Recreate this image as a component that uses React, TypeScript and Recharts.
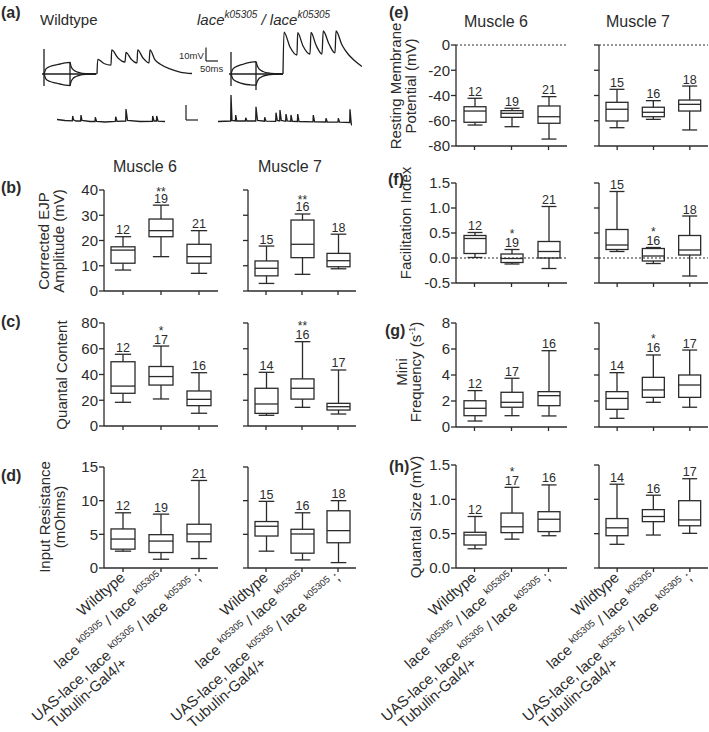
import React from 'react';
import { ComposedChart, Bar, XAxis, YAxis, ReferenceLine, LineChart, Line } from 'recharts';

const FONT = '"Liberation Sans", Arial, Helvetica, sans-serif';
const INK = '#2b2b2b';

const GROUPS = ['Wildtype', 'lace/lace', 'rescue'];

// box stats per genotype: [min, q1, median, q3, max]
const ejpM6 = [[8.3, 11, 16.2, 17.5, 21.5], [13.6, 21.5, 23.9, 28.5, 34], [7, 11, 13.6, 18.5, 23.9]];
const ejpM7 = [[3, 6, 9, 11.9, 17.8], [6.6, 13.2, 18.5, 28.1, 30.5], [8.8, 9.6, 12, 14.9, 22.5]];
const qcM6 = [[18.4, 25.4, 31, 49.9, 55.7], [21, 31.8, 38.4, 46.2, 62.1], [9.9, 15.8, 20.7, 27.2, 41.4]];
const qcM7 = [[8.3, 9.8, 17.1, 29.3, 41.7], [14.5, 20.9, 29.3, 36.6, 65.5], [9.3, 12.4, 15, 17.6, 43.5]];
const irM6 = [[2.5, 2.8, 4.3, 5.8, 8.2], [1.3, 2.3, 4.0, 4.95, 8.0], [1.4, 3.9, 5.05, 6.5, 13]];
const irM7 = [[2.5, 4.75, 6.2, 6.9, 9.9], [1.2, 2.2, 5.05, 5.75, 8.2], [0.8, 3.75, 5.55, 8.5, 10]];
const rmpM6 = [[-63.4, -61.2, -52.3, -48.9, -42.2], [-64.7, -57.3, -54.1, -52, -50.1], [-74.5, -62, -56.8, -48.3, -40.9]];
const rmpM7 = [[-65.5, -60.2, -50.9, -45.4, -35.1], [-58.9, -56.8, -53.3, -49.3, -44.1], [-67.3, -52.3, -47, -43.6, -32.5]];
const fiM6 = [[0.01, 0.09, 0.39, 0.45, 0.51], [-0.12, -0.09, -0.01, 0.08, 0.17], [-0.21, 0, 0.13, 0.33, 1.03]];
const fiM7 = [[0.13, 0.17, 0.26, 0.57, 1.33], [-0.11, -0.06, 0.04, 0.19, 0.21], [-0.36, 0.06, 0.16, 0.45, 0.84]];
const mfM6 = [[0.46, 0.87, 1.44, 2.02, 2.8], [0.87, 1.52, 1.9, 2.67, 3.75], [0.85, 1.64, 2.41, 2.72, 5.87]];
const mfM7 = [[0.67, 1.36, 2.2, 2.72, 4.18], [1.9, 2.28, 2.85, 3.82, 5.54], [1.52, 2.28, 3.23, 4.0, 5.92]];
const qsM6 = [[0.28, 0.335, 0.48, 0.52, 0.75], [0.42, 0.515, 0.6, 0.8, 1.175], [0.47, 0.53, 0.71, 0.82, 1.21]];
const qsM7 = [[0.345, 0.47, 0.585, 0.72, 1.22], [0.48, 0.675, 0.75, 0.85, 1.06], [0.505, 0.615, 0.7, 0.98, 1.3]];

// n per group
const nA = [12, 19, 21];
const nB = [15, 16, 18];
const nC = [12, 17, 16];
const nD = [14, 16, 17];

// significance marks
const sigNone = ['', '', ''];
const sig1 = ['', '*', ''];
const sig2 = ['', '**', ''];

// y ticks
const ejpTicks = [0, 10, 20, 30, 40];
const qcTicks = [0, 20, 40, 60, 80];
const irTicks = [0, 5, 10, 15];
const rmpTicks = [-80, -60, -40, -20, 0];
const fiTicks = [-0.5, 0, 0.5, 1, 1.5];
const mfTicks = [0, 2, 4, 6, 8];
const qsTicks = [0, 0.5, 1, 1.5];

// evoked traces [t ms, v mV]
const wtBase = [[0, 0], [245, 0]];
const wtArt1 = [[9, 19.3], [9, -9.2]];
const wtArt2 = [[126, 9.2], [126, -9.2]];
const wtStepUp = [[9, 0], [18, 3.9], [36, 5.8], [58, 6.9], [81, 7.7], [104, 8.5], [126, 8.9], [130, 6.2], [139, 3.5], [153, 1.9], [171, 0.9], [198, 0.3], [243, 0]];
const wtStepDown = [[9, 0], [18, -3.9], [36, -5.8], [58, -6.9], [81, -7.7], [104, -8.5], [126, -8.9], [130, -6.2], [139, -3.5], [153, -1.9], [171, -0.9], [198, -0.3], [243, 0]];
const wtTrain = [[247.5, 0], [250.7, 11.3], [279, 8.1], [310.5, 6.9], [313.7, 18.5], [342, 12.3], [373.5, 9.2], [378, 16.7], [400.5, 11.6], [427.5, 8.5], [430.7, 18.5], [454.5, 12.3], [481.5, 8.5], [486, 18.5], [508.5, 10.8], [531, 7.7], [576, 3.9], [621, 1.5], [675, 0.4]];

const laceBase = [[0, 0], [243, 0]];
const laceArt1 = [[9, 17], [9, -9.2]];
const laceArt2 = [[121.5, 9.2], [121.5, -12.3]];
const laceStepUp = [[9, 0], [18, 3.9], [40.5, 6.2], [67.5, 7.7], [94.5, 8.9], [121.5, 9.5], [126, 6.9], [135, 3.9], [153, 1.9], [175.5, 0.8], [207, 0.2], [243, 0]];
const laceStepDown = [[9, 0], [18, -3.9], [40.5, -6.2], [67.5, -7.7], [94.5, -8.3], [121.5, -8.5], [126, -6.2], [135, -3.5], [153, -1.7], [175.5, -0.7], [207, -0.2], [243, 0]];
const laceTrain = [[243, 0], [247.5, 32.3], [274.5, 20.8], [306, 14.6], [309, 31.8], [333, 21.6], [364.5, 15.4], [369, 32.1], [391.5, 22.3], [418.5, 15.4], [424, 33.1], [450, 23.1], [477, 16.2], [481.5, 33.1], [508.5, 22.3], [535.5, 15.4], [567, 10], [598.5, 5.8]];

// spontaneous minis [t ms, v mV]
const wtMini = [[0, 0.15], [80, 0.05], [153, 0.02], [157, 0.5], [165, 0.12], [190, 0], [236, 0], [240, 0.6], [250, 0.05], [330, -0.05], [380, -0.05], [383, 0.37], [395, -0.03], [480, -0.1], [583, -0.05], [587, 0.43], [600, -0.03], [687, 0], [690, 1.2], [705, 0.05], [830, -0.05], [954, -0.03], [957, 0.5], [970, 0], [994, 0], [997, 0.5], [1010, -0.02], [1080, -0.05]];
const laceMini = [[0, -0.05], [127, 0], [130, 2.6], [140, 0.05], [174, 0], [177, 0.6], [188, 0], [274, 0], [277, 0.33], [290, 0], [377, 0], [380, 1.43], [395, 0.05], [464, -0.02], [467, 0.37], [480, -0.02], [577, -0.03], [580, 0.83], [593, 0.05], [617, 0], [620, 1.1], [633, 0.05], [677, -0.03], [680, 0.7], [693, 0], [727, -0.03], [730, 0.6], [743, -0.03], [794, -0.05], [797, 0.7], [810, -0.05], [950, -0.08], [953, 0.6], [966, -0.08], [1077, -0.1], [1080, 0.27], [1093, -0.1], [1200, -0.12], [1203, 0.27], [1216, -0.12], [1317, -0.15], [1320, 1.17], [1333, -0.3], [1340, -0.45]];

const toPts = (arr: number[][]) => arr.map(([t, v]) => ({ t, v }));

const boxShape = (boxW: number, starGap: number) => (props: any) => {
  const { x, y, width, height, payload } = props;
  const [mn, q1, md, q3, mx] = payload.stats;
  const top = Math.min(y, y + height);
  const h = Math.abs(height);
  const py = (v: number) => top + (h * (mx - v)) / (mx - mn);
  const cx = x + width / 2;
  const half = boxW / 2;
  const cap = boxW * 0.34;
  return (
    <g>
      <g stroke={INK} strokeWidth={1.3} fill="none">
        <line x1={cx} x2={cx} y1={py(mx)} y2={py(q3)} />
        <line x1={cx} x2={cx} y1={py(q1)} y2={py(mn)} />
        <line x1={cx - cap} x2={cx + cap} y1={py(mx)} y2={py(mx)} />
        <line x1={cx - cap} x2={cx + cap} y1={py(mn)} y2={py(mn)} />
        <rect x={cx - half} y={py(q3)} width={boxW} height={py(q1) - py(q3)} />
        <line x1={cx - half} x2={cx + half} y1={py(md)} y2={py(md)} />
      </g>
      <text x={cx} y={py(mx) - 2.5} textAnchor="middle" fontSize={12.5} fill={INK} fontFamily={FONT}>
        {payload.n}
      </text>
      {payload.sig ? (
        <text x={cx} y={py(mx) - 2.5 - starGap} textAnchor="middle" fontSize={12} fill={INK} fontFamily={FONT}>
          {payload.sig}
        </text>
      ) : null}
    </g>
  );
};

const GroupTick = (props: any) => {
  const { x, y, payload } = props;
  let body: React.ReactNode = null;
  if (payload.value === GROUPS[0]) {
    body = <text textAnchor="end">Wildtype</text>;
  } else if (payload.value === GROUPS[1]) {
    body = (
      <text textAnchor="end">
        {'lace '}
        <tspan fontSize={9.5} dy={-6}>k05305</tspan>
        <tspan dy={6}>{' / lace '}</tspan>
        <tspan fontSize={9.5} dy={-6}>k05305</tspan>
      </text>
    );
  } else {
    body = (
      <>
        <text textAnchor="end">
          {'UAS-lace, lace '}
          <tspan fontSize={9.5} dy={-6}>k05305</tspan>
          <tspan dy={6}>{' / lace '}</tspan>
          <tspan fontSize={9.5} dy={-6}>k05305</tspan>
          <tspan dy={6}>{' ;'}</tspan>
        </text>
        <text x={-210} y={16} textAnchor="start">Tubulin-Gal4/+</text>
      </>
    );
  }
  return (
    <g
      transform={`translate(${x + 3},${y + 7}) rotate(-41)`}
      fontSize={15}
      fill={INK}
      fontFamily={FONT}
      style={{ whiteSpace: 'pre' }}
    >
      {body}
    </g>
  );
};

const Empty = () => <g />;

interface PanelProps {
  axisX: number;
  top: number;
  plotW: number;
  plotH: number;
  domain: [number, number];
  ticks: number[];
  stats: number[][];
  n: number[];
  sig: string[];
  labels?: boolean;
  bottom?: boolean;
  fmt?: (v: number) => string;
  zero?: boolean;
  boxW: number;
  starGap?: number;
}

const BoxPanel: React.FC<PanelProps> = ({ axisX, top, plotW, plotH, domain, ticks, stats, n, sig, labels, bottom, fmt, zero, boxW, starGap = 9 }) => {
  const yw = bottom ? 90 : 60;
  const xh = bottom ? 164 : 8;
  const data = GROUPS.map((g, i) => ({ group: g, range: [stats[i][0], stats[i][4]], stats: stats[i], n: n[i], sig: sig[i] }));
  return (
    <div style={{ position: 'absolute', left: axisX - yw, top }}>
      <ComposedChart width={yw + plotW} height={plotH + xh} data={data} margin={{ top: 0, right: 0, bottom: 0, left: 0 }}>
        <XAxis
          dataKey="group"
          type="category"
          height={xh}
          interval={0}
          tickSize={4}
          tickMargin={0}
          axisLine={{ stroke: INK, strokeWidth: 1.3 }}
          tickLine={{ stroke: INK, strokeWidth: 1.3 }}
          tick={bottom ? GroupTick : Empty}
        />
        <YAxis
          type="number"
          domain={domain}
          ticks={ticks}
          width={yw}
          tickSize={5}
          tickMargin={1}
          interval={0}
          axisLine={{ stroke: INK, strokeWidth: 1.3 }}
          tickLine={{ stroke: INK, strokeWidth: 1.3 }}
          tick={labels ? { fontSize: 15, fill: INK, fontFamily: FONT } : Empty}
          tickFormatter={fmt}
        />
        {zero ? <ReferenceLine y={0} stroke={INK} strokeWidth={1} strokeDasharray="2 2" /> : null}
        <Bar dataKey="range" barSize={boxW} shape={boxShape(boxW, starGap)} isAnimationActive={false} />
      </ComposedChart>
    </div>
  );
};

interface TraceProps {
  left: number;
  top: number;
  width: number;
  height: number;
  xDomain: [number, number];
  yDomain: [number, number];
  series: { pts: number[][]; curve: 'linear' | 'monotone' }[];
}

const Trace: React.FC<TraceProps> = ({ left, top, width, height, xDomain, yDomain, series }) => (
  <div style={{ position: 'absolute', left, top }}>
    <LineChart width={width} height={height} margin={{ top: 0, right: 0, bottom: 0, left: 0 }}>
      <XAxis type="number" dataKey="t" domain={xDomain} hide allowDataOverflow />
      <YAxis type="number" domain={yDomain} hide allowDataOverflow />
      {series.map((s, i) => (
        <Line
          key={i}
          data={toPts(s.pts)}
          dataKey="v"
          type={s.curve}
          stroke="#1e1e1e"
          strokeWidth={1.3}
          dot={false}
          isAnimationActive={false}
        />
      ))}
    </LineChart>
  </div>
);

const fmt1 = (v: number) => v.toFixed(1);

const YLabel = ({ x, y, children }: { x: number; y: number; children: React.ReactNode }) => (
  <text transform={`translate(${x},${y}) rotate(-90)`} textAnchor="middle" fontSize={15}>
    {children}
  </text>
);

export default function App() {
  const L6 = { axisX: 104, plotW: 114, boxW: 24 };
  const L7 = { axisX: 248, plotW: 108, boxW: 23 };
  const R6 = { axisX: 456, plotW: 111, boxW: 22 };
  const R7 = { axisX: 599, plotW: 109, boxW: 22 };
  return (
    <div style={{ position: 'absolute', left: 0, top: 0, width: 709, height: 732, background: '#fff', overflow: 'hidden' }}>
      <style>{'.recharts-surface{overflow:visible}'}</style>

      <Trace
        left={42}
        top={44}
        width={150}
        height={46}
        xDomain={[0, 675]}
        yDomain={[-12.32, 23.1]}
        series={[
          { pts: wtBase, curve: 'linear' },
          { pts: wtArt1, curve: 'linear' },
          { pts: wtArt2, curve: 'linear' },
          { pts: wtStepUp, curve: 'monotone' },
          { pts: wtStepDown, curve: 'monotone' },
          { pts: wtTrain, curve: 'monotone' },
        ]}
      />
      <Trace
        left={229}
        top={28}
        width={133}
        height={64}
        xDomain={[0, 598.5]}
        yDomain={[-13.86, 35.42]}
        series={[
          { pts: laceBase, curve: 'linear' },
          { pts: laceArt1, curve: 'linear' },
          { pts: laceArt2, curve: 'linear' },
          { pts: laceStepUp, curve: 'monotone' },
          { pts: laceStepDown, curve: 'monotone' },
          { pts: laceTrain, curve: 'monotone' },
        ]}
      />
      <Trace left={57} top={105} width={108} height={20} xDomain={[0, 1080]} yDomain={[-0.4, 1.6]} series={[{ pts: wtMini, curve: 'linear' }]} />
      <Trace left={218} top={93} width={134} height={34} xDomain={[0, 1340]} yDomain={[-0.6, 2.8]} series={[{ pts: laceMini, curve: 'linear' }]} />

      {/* (b) EJP amplitude */}
      <BoxPanel {...L6} top={190} plotH={101} domain={[0, 40]} ticks={ejpTicks} stats={ejpM6} n={nA} sig={sig2} labels starGap={7} />
      <BoxPanel {...L7} top={190} plotH={101} domain={[0, 40]} ticks={ejpTicks} stats={ejpM7} n={nB} sig={sig2} starGap={7} />
      {/* (c) quantal content */}
      <BoxPanel {...L6} top={323} plotH={103} domain={[0, 80]} ticks={qcTicks} stats={qcM6} n={nC} sig={sig1} labels />
      <BoxPanel {...L7} top={323} plotH={103} domain={[0, 80]} ticks={qcTicks} stats={qcM7} n={nD} sig={sig2} />
      {/* (d) input resistance */}
      <BoxPanel {...L6} top={467} plotH={101} domain={[0, 15]} ticks={irTicks} stats={irM6} n={nA} sig={sigNone} labels bottom />
      <BoxPanel {...L7} top={467} plotH={101} domain={[0, 15]} ticks={irTicks} stats={irM7} n={nB} sig={sigNone} bottom />
      {/* (e) resting membrane potential */}
      <BoxPanel {...R6} top={45} plotH={101} domain={[-80, 0]} ticks={rmpTicks} stats={rmpM6} n={nA} sig={sigNone} labels zero />
      <BoxPanel {...R7} top={45} plotH={101} domain={[-80, 0]} ticks={rmpTicks} stats={rmpM7} n={nB} sig={sigNone} zero />
      {/* (f) facilitation index */}
      <BoxPanel {...R6} top={183} plotH={100} domain={[-0.5, 1.5]} ticks={fiTicks} stats={fiM6} n={nA} sig={sig1} labels zero fmt={fmt1} />
      <BoxPanel {...R7} top={183} plotH={100} domain={[-0.5, 1.5]} ticks={fiTicks} stats={fiM7} n={nB} sig={sig1} zero fmt={fmt1} />
      {/* (g) mini frequency */}
      <BoxPanel {...R6} top={323} plotH={104} domain={[0, 8]} ticks={mfTicks} stats={mfM6} n={nC} sig={sigNone} labels />
      <BoxPanel {...R7} top={323} plotH={104} domain={[0, 8]} ticks={mfTicks} stats={mfM7} n={nD} sig={sig1} />
      {/* (h) quantal size */}
      <BoxPanel {...R6} top={465} plotH={103} domain={[0, 1.5]} ticks={qsTicks} stats={qsM6} n={nC} sig={sig1} labels bottom fmt={fmt1} />
      <BoxPanel {...R7} top={465} plotH={103} domain={[0, 1.5]} ticks={qsTicks} stats={qsM7} n={nD} sig={sigNone} bottom fmt={fmt1} />

      <svg width={709} height={732} style={{ position: 'absolute', left: 0, top: 0, pointerEvents: 'none' }} fontFamily={FONT} fill={INK}>
        <g fontWeight="bold" fontSize={16}>
          <text x={1} y={18}>(a)</text>
          <text x={1} y={193}>(b)</text>
          <text x={1} y={327}>(c)</text>
          <text x={1} y={481}>(d)</text>
          <text x={389} y={18}>(e)</text>
          <text x={388} y={185}>(f)</text>
          <text x={385} y={336}>(g)</text>
          <text x={389} y={472}>(h)</text>
        </g>

        <text x={40} y={25} fontSize={15}>Wildtype</text>
        <text x={197} y={25} fontSize={15} fontStyle="italic" style={{ whiteSpace: 'pre' }}>
          {'lace'}
          <tspan fontSize={10} dy={-7}>k05305</tspan>
          <tspan dy={7}>{' / lace'}</tspan>
          <tspan fontSize={10} dy={-7}>k05305</tspan>
        </text>

        <text x={179} y={59} fontSize={9.5}>10mV</text>
        <text x={200} y={72} fontSize={9.5}>50ms</text>
        <g stroke="#1e1e1e" strokeWidth={1.2}>
          <line x1={206} x2={206} y1={47.5} y2={61} />
          <line x1={206} x2={218} y1={61} y2={61} />
          <line x1={186} x2={186} y1={105} y2={120} />
          <line x1={186} x2={198} y1={120} y2={120} />
        </g>

        <g fontSize={16} textAnchor="middle">
          <text x={145} y={172}>Muscle 6</text>
          <text x={290} y={172}>Muscle 7</text>
          <text x={496} y={27}>Muscle 6</text>
          <text x={638} y={27}>Muscle 7</text>
        </g>

        <YLabel x={49} y={241}>Corrected EJP</YLabel>
        <YLabel x={64} y={241}>Amplitude (mV)</YLabel>
        <YLabel x={66.5} y={375}>Quantal Content</YLabel>
        <YLabel x={50} y={517}>Input Resistance</YLabel>
        <YLabel x={65} y={517}>(mOhms)</YLabel>
        <YLabel x={401} y={86}>Resting Membrane</YLabel>
        <YLabel x={416} y={86}>Potential (mV)</YLabel>
        <YLabel x={411} y={223}>Facilitation Index</YLabel>
        <YLabel x={406.5} y={372}>Mini</YLabel>
        <YLabel x={421} y={372}>
          {'Frequency (s'}
          <tspan fontSize={9} dy={-6}>-1</tspan>
          <tspan dy={6}>)</tspan>
        </YLabel>
        <YLabel x={421} y={517}>Quantal Size (mV)</YLabel>
      </svg>
    </div>
  );
}
